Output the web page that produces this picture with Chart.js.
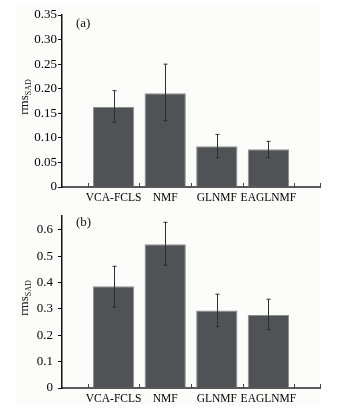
<!DOCTYPE html>
<html>
<head>
<meta charset="utf-8">
<script src="https://cdn.jsdelivr.net/npm/chart.js@4"></script>
<style>
  html, body { margin: 0; padding: 0; background: #ffffff; }
  #wrap { position: relative; width: 353px; height: 412px; }
  #bg { position: absolute; left: 16px; top: 5px; width: 304px; height: 401px; background: #fcfcfa; }
  .box { position: absolute; left: 0; width: 353px; }
  #boxA { top: 0; height: 210px; }
  #boxB { top: 210px; height: 202px; }
</style>
</head>
<body>
<div id="wrap">
  <div id="bg"></div>
  <div class="box" id="boxA"><canvas id="chartA"></canvas></div>
  <div class="box" id="boxB"><canvas id="chartB"></canvas></div>
</div>
<script>
const methods = ['VCA-FCLS', 'NMF', 'GLNMF', 'EAGLNMF'];

// (a)
const meanA = [0.163, 0.191, 0.083, 0.077];
const lowA = [0.132, 0.135, 0.060, 0.060];
const highA = [0.196, 0.250, 0.107, 0.093];
const ticksA = [0, 0.05, 0.10, 0.15, 0.20, 0.25, 0.30, 0.35];

// (b)
const meanB = [0.386, 0.546, 0.294, 0.277];
const lowB = [0.307, 0.466, 0.233, 0.222];
const highB = [0.462, 0.629, 0.356, 0.337];
const ticksB = [0, 0.1, 0.2, 0.3, 0.4, 0.5, 0.6];

const serif = "'Liberation Serif', 'DejaVu Serif', serif";
const barColor = '#4f5355';

// pad an empty slot on each side so the axis runs 0..5
function padded(arr) { return [null].concat(arr, [null]); }

// error bars + inner x ticks + y title + panel letter
const decor = {
    id: 'decor',
    afterDatasetsDraw(chart, args, opts) {
        const ctx = chart.ctx;
        const x = chart.scales.x;
        const y = chart.scales.y;
        const meta = chart.getDatasetMeta(0);
        ctx.save();
        ctx.strokeStyle = '#2e2e2e';
        ctx.lineWidth = 1;
        meta.data.forEach((bar, i) => {
            const lo = opts.low[i - 1], hi = opts.high[i - 1];
            if (lo == null) return;
            const cx = Math.round(bar.x) + 0.5;
            const y1 = y.getPixelForValue(hi), y2 = y.getPixelForValue(lo);
            ctx.beginPath();
            ctx.moveTo(cx, y1); ctx.lineTo(cx, y2);
            ctx.moveTo(cx - 2, y1); ctx.lineTo(cx + 2, y1);
            ctx.moveTo(cx - 2, y2); ctx.lineTo(cx + 2, y2);
            ctx.stroke();
        });
        // x ticks pointing up between the bars
        ctx.strokeStyle = '#444';
        const marks = [0.5, 1.5, 2.5, 3.5, 4.5, 5];
        marks.forEach(v => {
            const px = Math.round(x.getPixelForValue(v)) + 0.5;
            ctx.beginPath();
            ctx.moveTo(px, y.bottom);
            ctx.lineTo(px, y.bottom - 4);
            ctx.stroke();
        });
        // y title rms_SAD
        ctx.fillStyle = '#111';
        ctx.translate(opts.titleX, (y.top + y.bottom) / 2 + opts.titleDy);
        ctx.rotate(-Math.PI / 2);
        ctx.font = '13px ' + serif;
        ctx.textBaseline = 'alphabetic';
        const w1 = ctx.measureText('rms').width;
        ctx.font = '8px ' + serif;
        const w2 = ctx.measureText('SAD').width;
        const start = -(w1 + w2) / 2;
        ctx.font = '13px ' + serif;
        ctx.textAlign = 'left';
        ctx.fillText('rms', start, 0);
        ctx.font = '8px ' + serif;
        ctx.fillText('SAD', start + w1, 3);
        ctx.restore();
        // panel letter
        ctx.save();
        ctx.fillStyle = '#111';
        ctx.font = '13px ' + serif;
        ctx.textBaseline = 'middle';
        ctx.fillText(opts.letter, x.left + 14, opts.letterY);
        ctx.restore();
    }
};

function makeChart(id, mean, low, high, tickVals, maxV, digits, yPad, letter, letterY, topPad, xHeight) {
    return new Chart(document.getElementById(id), {
        type: 'bar',
        data: {
            labels: padded(methods).map(m => m || ''),
            datasets: [{
                data: padded(mean),
                backgroundColor: barColor,
                borderColor: '#8e8e8e',
                borderWidth: 1,
                barPercentage: 0.8,
                categoryPercentage: 1.0
            }]
        },
        options: {
            responsive: true,
            maintainAspectRatio: false,
            animation: false,
            layout: { padding: { left: 0, right: 33, top: topPad, bottom: 0 } },
            plugins: {
                legend: { display: false },
                tooltip: { enabled: false },
                decor: { low: low, high: high, letter: letter, letterY: letterY, titleX: 28, titleDy: -4 }
            },
            scales: {
                x: {
                    type: 'category',
                    offset: false,
                    afterFit: s => { s.height = xHeight; s.paddingLeft = 0; s.paddingRight = 0; },
                    grid: { display: false, drawTicks: false },
                    border: { display: true, color: '#5a5a5a', width: 2 },
                    ticks: {
                        color: '#000',
                        font: { family: serif, size: 11.5 },
                        padding: 4,
                        autoSkip: false,
                        maxRotation: 0
                    }
                },
                y: {
                    min: 0,
                    max: maxV,
                    afterFit: s => { s.width = 62; s.paddingTop = 0; s.paddingBottom = 0; },
                    afterBuildTicks: s => { s.ticks = tickVals.map(v => ({ value: v })); },
                    grid: { drawOnChartArea: false, drawTicks: true, tickLength: 4, color: '#111' },
                    border: { display: true, color: '#111', width: 1.5 },
                    ticks: {
                        color: '#000',
                        font: { family: serif, size: 13 },
                        padding: yPad,
                        callback: v => v === 0 ? '0' : v.toFixed(digits)
                    }
                }
            }
        },
        plugins: [decor]
    });
}

makeChart('chartA', meanA, lowA, highA, ticksA, 0.35, 2, 1, '(a)', 24, 15, 23);
makeChart('chartB', meanB, lowB, highB, ticksB, 0.653, 1, 5, '(b)', 13, 6, 24);
</script>
</body>
</html>
